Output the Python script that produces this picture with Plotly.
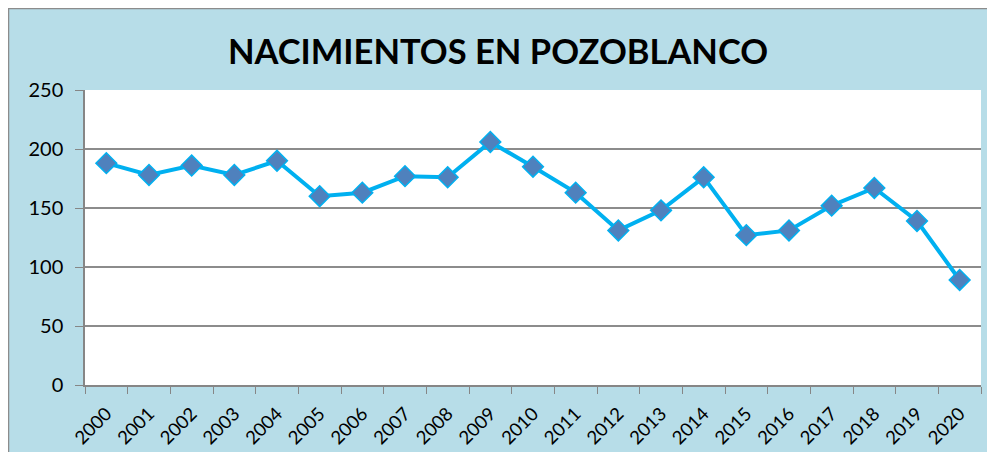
import plotly.graph_objects as go

years = [str(y) for y in range(2000, 2021)]
births = [188, 178, 186, 178, 190, 160, 163, 177, 176, 206, 185, 163, 131, 148, 176, 127, 131, 152, 167, 139, 89]
y_ticks = [0, 50, 100, 150, 200, 250]
title_text = "NACIMIENTOS EN POZOBLANCO"

# page has an 8px body margin, so figure is drawn 8px in from the window edge
W, H = 987, 444
L, R, T, B = 77, 14, 82, 67
pw, ph = W - L - R, H - T - B

def px(x):
    return (x - L) / pw

def py(y):
    return (H - B - y) / ph

fig = go.Figure()
fig.add_trace(go.Scatter(
    x=years, y=births, mode="lines+markers",
    line=dict(color="#00b0f0", width=4),
    marker=dict(symbol="diamond", size=16, color="#4f81bd",
                line=dict(color="#00b0f0", width=1.5)),
    showlegend=False, cliponaxis=False,
))

fig.add_shape(type="rect", xref="paper", yref="paper", layer="below",
              x0=px(0.5), x1=px(W + 5), y0=py(H + 5), y1=py(0.5),
              fillcolor="#b7dde8", line=dict(color="#8c8c8c", width=1.5))
fig.add_shape(type="rect", xref="paper", yref="paper", layer="below",
              x0=0, x1=1, y0=0, y1=1, fillcolor="white", line=dict(width=0))

fig.update_layout(
    width=W, height=H,
    margin=dict(l=L, r=R, t=T, b=B, autoexpand=False),
    paper_bgcolor="white", plot_bgcolor="rgba(0,0,0,0)",
    font=dict(family="Lato, Carlito, Calibri, sans-serif", color="black"),
    title=dict(text="<b>" + title_text + "</b>", x=(498 - 8) / W, xanchor="center",
               y=1 - 44 / H, yanchor="middle",
               font=dict(size=34.5, family="Lato, sans-serif", color="black")),
)
fig.update_xaxes(
    type="category", tickson="boundaries", ticks="outside", ticklen=7,
    tickcolor="#868686", showline=True, linecolor="#868686", linewidth=1.5,
    showgrid=False, tickangle=-45, tickfont=dict(size=18.5), range=[-0.5, 20.5],
    ticklabelstandoff=9, automargin=False,
)
fig.update_yaxes(
    range=[0, 250], tickvals=y_ticks, ticks="outside", ticklen=8,
    tickcolor="#868686", showline=True, linecolor="#868686", linewidth=1.5,
    showgrid=True, gridcolor="#8c8c8c", gridwidth=1.5, tickfont=dict(size=20),
    zeroline=False, ticklabelstandoff=8, automargin=False,
)

fig.write_html("out.html")
